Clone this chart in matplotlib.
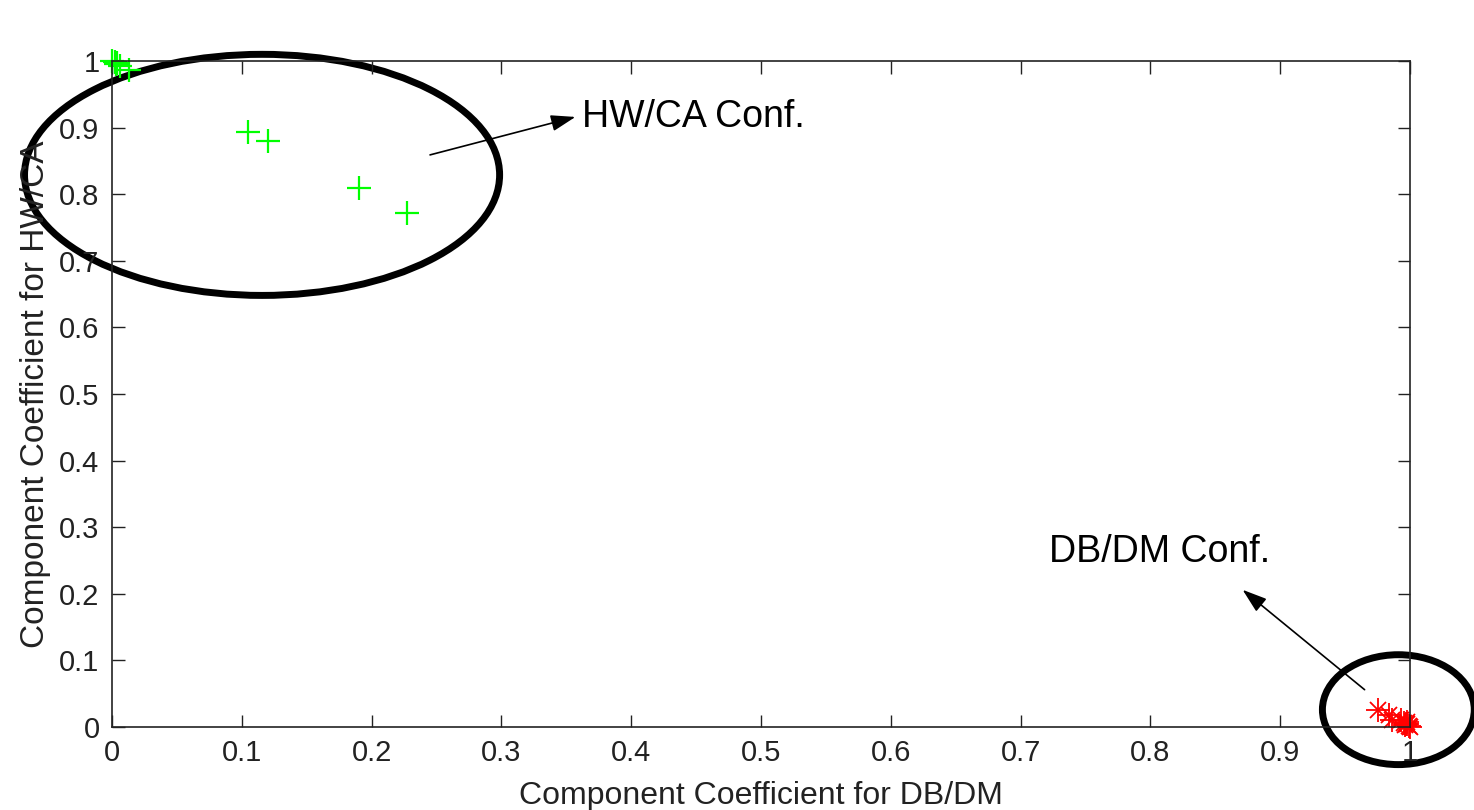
import numpy as np
import matplotlib
matplotlib.use('Agg')
import matplotlib.pyplot as plt
from matplotlib.patches import Ellipse

plt.rcParams['font.family'] = ['Liberation Sans', 'DejaVu Sans']

# HW/CA configurations (green +)
hw_x = [0.000, 0.002, 0.004, 0.003, 0.006, 0.013, 0.105, 0.120, 0.190, 0.227]
hw_y = [1.000, 0.999, 0.997, 0.995, 0.993, 0.986, 0.893, 0.880, 0.809, 0.772]

# DB/DM configurations (red *)
db_x = [0.975, 0.984, 0.986, 0.993, 0.995, 0.997, 0.998, 0.999, 1.000, 0.996, 0.998]
db_y = [0.026, 0.018, 0.011, 0.010, 0.006, 0.004, 0.008, 0.002, 0.000, 0.003, 0.005]

ticks = np.arange(0, 1.01, 0.1)
tick_labels = ['0', '0.1', '0.2', '0.3', '0.4', '0.5', '0.6', '0.7', '0.8', '0.9', '1']

fig = plt.figure(figsize=(14.74, 8.10), dpi=100)
ax = fig.add_axes([0.076, 0.1025, 0.8806, 0.8222])

ax.plot(hw_x, hw_y, '+', color='#00ff00', markersize=17, markeredgewidth=1.6, clip_on=False)
# matlab style asterisk: plus + x
ax.plot(db_x, db_y, '+', color='red', markersize=17, markeredgewidth=1.3, clip_on=False)
ax.plot(db_x, db_y, 'x', color='red', markersize=12, markeredgewidth=1.3, clip_on=False)

ax.set_xlim(0, 1)
ax.set_ylim(0, 1)
ax.set_xticks(ticks)
ax.set_xticklabels(tick_labels)
ax.set_yticks(ticks)
ax.set_yticklabels(tick_labels)
ax.tick_params(direction='in', length=9, width=1, top=True, right=True,
               labelsize=21, colors='#222222', pad=9)
for s in ax.spines.values():
    s.set_color('#222222')
    s.set_linewidth(1.2)

ax.set_xlabel('Component Coefficient for DB/DM', fontsize=23, color='#222222', labelpad=10)
ax.set_ylabel('Component Coefficient for HW/CA', fontsize=24, color='#222222', labelpad=6)

# circles around the groups
ax.add_patch(Ellipse((0.1156, 0.829), 0.366, 0.362, fill=False, lw=5, ec='black', clip_on=False))
ax.add_patch(Ellipse((0.991, 0.026), 0.117, 0.165, fill=False, lw=5, ec='black', clip_on=False))

arrow = dict(arrowstyle='-|>,head_length=1.5,head_width=0.5', color='black', lw=1.2,
             shrinkA=0, shrinkB=0)
ax.annotate('', xy=(0.357, 0.916), xytext=(0.245, 0.859), annotation_clip=False,
            arrowprops=arrow)
ax.text(0.362, 0.916, 'HW/CA Conf.', fontsize=27, va='center', ha='left')

ax.annotate('', xy=(0.871, 0.206), xytext=(0.965, 0.056), annotation_clip=False,
            arrowprops=arrow)
ax.text(0.807, 0.263, 'DB/DM Conf.', fontsize=27, va='center', ha='center')

fig.savefig('out.png', dpi=100)
